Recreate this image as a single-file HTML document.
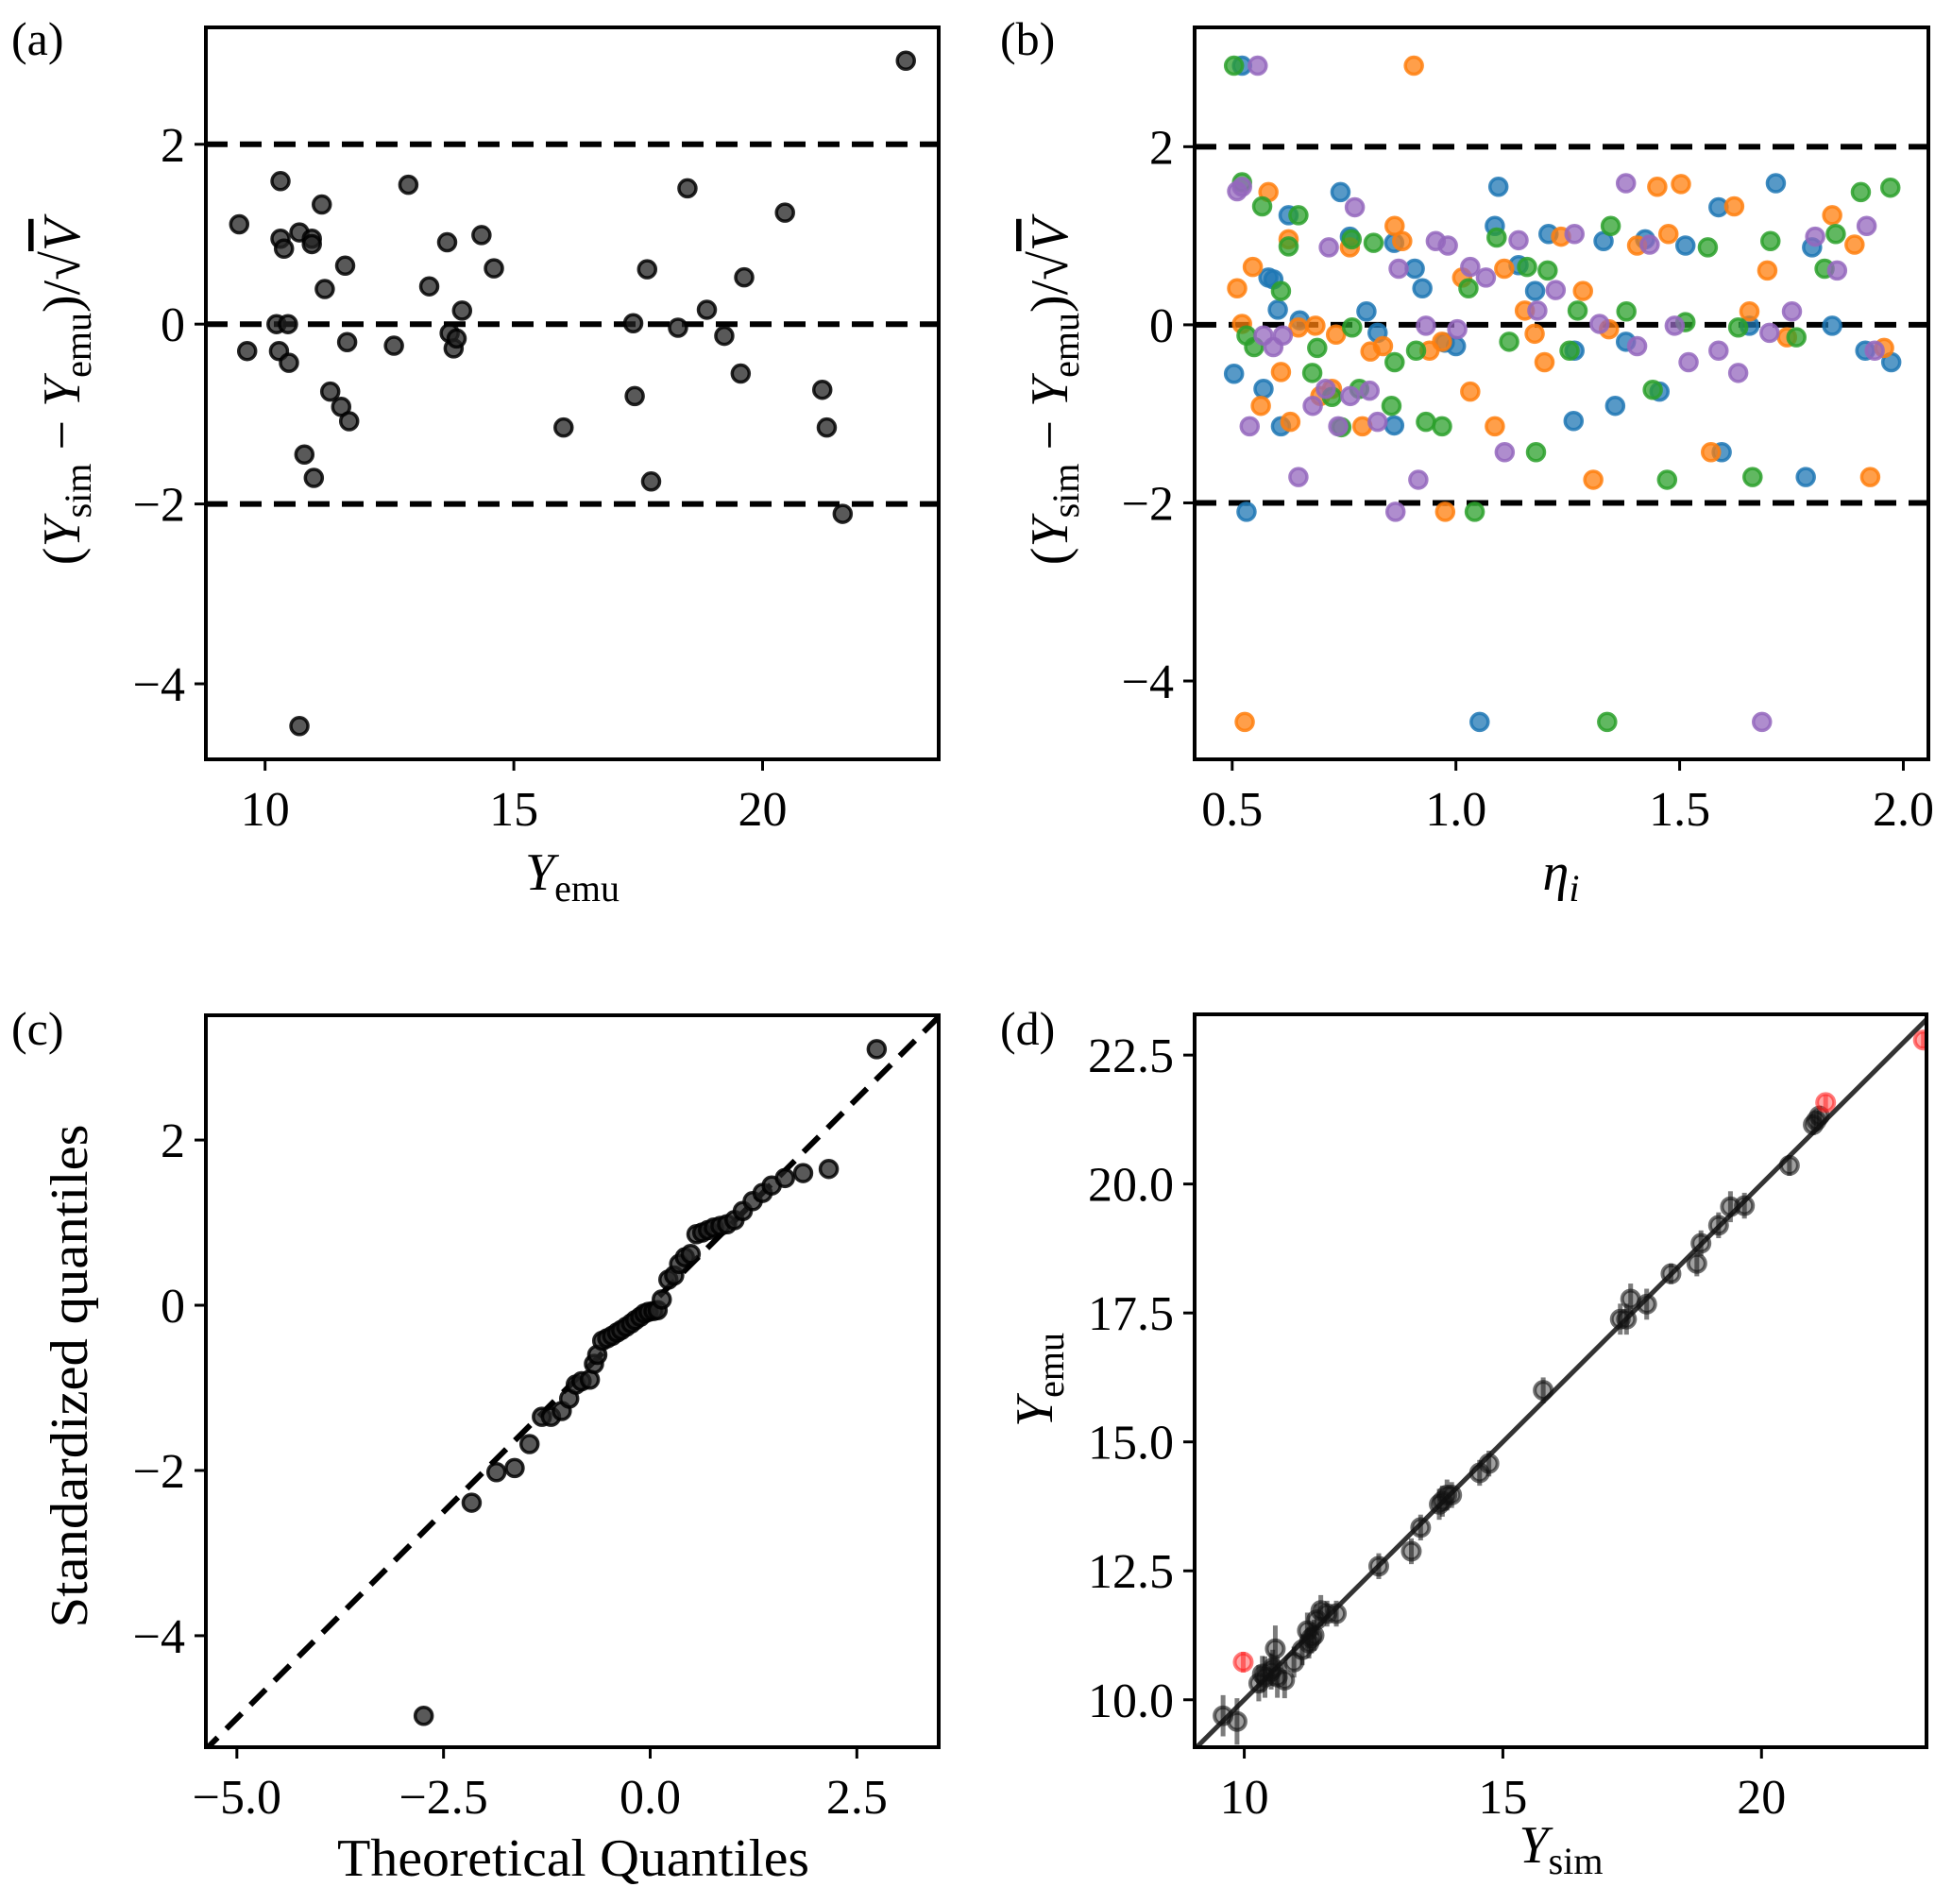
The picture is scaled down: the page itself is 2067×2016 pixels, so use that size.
<!DOCTYPE html>
<html><head><meta charset="utf-8">
<style>
html,body{margin:0;padding:0;background:#fff;}
svg{display:block;font-family:"Liberation Serif","DejaVu Serif",serif;}
</style></head>
<body>
<svg id="fig" width="2067" height="2016" viewBox="0 0 2067 2016" xmlns="http://www.w3.org/2000/svg"></svg>
<script>
// ---------- Panel (a) data ----------
const aX = [22.88,9.48,9.64,10.31,10.31,10.38,10.23,10.46,10.28,10.48,10.69,10.94,10.94,11.14,11.2,11.31,11.53,11.69,11.61,11.65,10.79,10.98,10.69,12.59,12.88,13.3,13.66,13.71,13.79,13.85,13.96,14.35,14.6,16.0,17.4,17.43,17.68,17.76,18.3,18.49,18.88,19.23,19.56,19.63,20.45,21.2,21.29,21.61];
const aY = [2.93,1.11,-0.30,1.59,0.95,0.84,0,0,-0.30,-0.43,1.02,0.95,0.89,1.33,0.39,-0.75,-0.92,-1.08,0.65,-0.2,-1.45,-1.71,-4.47,-0.24,1.55,0.42,0.91,-0.1,-0.27,-0.16,0.15,0.99,0.62,-1.15,0.01,-0.8,0.61,-1.75,-0.04,1.51,0.16,-0.13,-0.55,0.52,1.24,-0.73,-1.15,-2.11];
const aTicksX = [10,15,20];
const aTicksY = [2,0,-2,-4];
const aRefLines = [2,0,-2];

// ---------- Panel (b) data ----------
const bBlueX = [0.522,0.504,0.570,0.581,0.592,0.602,0.609,0.626,0.742,0.763,0.800,0.825,0.862,0.862,0.908,0.925,1.000,0.975,1.095,1.087,1.177,1.207,1.263,1.265,1.330,1.356,1.380,1.423,1.455,1.513,1.587,1.594,1.656,1.715,1.782,1.796,1.841,1.915,1.973,0.532,1.053,0.651,1.140];
const bBlueY = [2.91,-0.55,-0.72,0.53,0.51,0.17,-1.14,1.23,1.49,0.99,0.15,-0.09,0.92,-1.13,0.63,0.41,-0.24,-0.20,1.55,1.11,0.38,1.02,-1.08,-0.29,0.94,-0.91,-0.19,0.96,-0.75,0.89,1.32,-1.43,-0.01,1.59,-1.71,0.87,-0.01,-0.29,-0.42,-2.10,-4.46,0.05,0.67];
const bOrangeX = [0.906,0.528,0.581,0.511,0.522,0.546,0.564,0.609,0.630,0.626,0.648,0.686,0.697,0.723,0.732,0.763,0.791,0.809,0.837,0.863,0.880,0.941,0.969,0.976,1.014,1.032,1.087,1.108,1.154,1.176,1.198,1.235,1.284,1.307,1.342,1.405,1.450,1.475,1.503,1.570,1.622,1.656,1.696,1.740,1.841,1.891,1.926,1.957];
const bOrangeY = [2.91,-4.46,1.49,0.41,0.01,0.65,-0.91,-0.53,-1.09,0.96,-0.03,-0.01,-0.80,-0.72,-0.11,0.87,-1.14,-0.30,-0.24,1.11,0.94,-0.29,-0.19,-2.10,0.53,-0.75,-1.14,0.63,0.16,-0.10,-0.42,0.99,0.38,-1.74,-0.05,0.89,1.55,1.02,1.58,-1.43,1.33,0.15,0.61,-0.14,1.23,0.90,-1.71,-0.26];
const bGreenX = [0.504,0.522,0.567,0.532,0.549,0.609,0.626,0.648,0.679,0.690,0.723,0.768,0.784,0.816,0.863,0.856,0.911,0.933,0.969,1.042,1.028,1.091,1.119,1.179,1.205,1.254,1.272,1.346,1.381,1.440,1.472,1.513,1.563,1.631,1.663,1.703,1.761,1.824,1.849,1.905,1.971,0.744,1.159,0.767,1.338];
const bGreenY = [2.91,1.60,1.33,-0.12,-0.25,0.38,0.88,1.23,-0.54,-0.26,-0.81,-0.03,-0.72,0.92,-0.42,-0.91,-0.29,-1.09,-1.14,-2.10,0.41,0.98,-0.19,-1.43,0.61,-0.29,0.16,1.11,0.15,-0.73,-1.74,0.03,0.87,-0.03,-1.71,0.94,-0.14,0.63,1.02,1.49,1.54,-1.15,0.65,0.96,-4.46];
const bPurpleX = [0.557,0.511,0.522,0.539,0.570,0.592,0.613,0.648,0.680,0.709,0.716,0.737,0.764,0.774,0.807,0.825,0.872,0.865,0.916,0.933,0.955,0.982,1.003,1.032,1.067,1.109,1.140,1.182,1.223,1.265,1.321,1.380,1.405,1.433,1.489,1.520,1.587,1.631,1.684,1.701,1.751,1.803,1.852,1.918,1.936];
const bPurpleY = [2.91,1.50,1.55,-1.14,-0.12,-0.25,-0.12,-1.71,-0.91,-0.72,0.87,-1.14,-0.80,1.32,-0.74,-1.09,0.63,-2.10,-1.74,-0.01,0.94,0.89,-0.05,0.65,0.53,-1.43,0.95,0.16,0.39,1.02,0.01,1.59,-0.24,0.90,-0.01,-0.42,-0.29,-0.54,-4.46,-0.09,0.15,0.99,0.61,1.11,-0.29];
const bTicksX = [0.5,1.0,1.5,2.0];
const bTicksY = [2,0,-2,-4];

// ---------- Panel (c) data ----------
const cX = [-2.74,-2.16,-1.86,-1.64,-1.46,-1.31,-1.20,-1.07,-0.98,-0.90,-0.83,-0.73,-0.68,-0.64,-0.58,-0.52,-0.46,-0.40,-0.35,-0.29,-0.23,-0.18,-0.12,-0.07,-0.02,0.04,0.09,0.14,0.22,0.29,0.35,0.42,0.49,0.56,0.63,0.70,0.77,0.85,0.93,1.02,1.12,1.24,1.36,1.47,1.63,1.85,2.16,2.74];
const cY = [-4.97,-2.39,-2.02,-1.97,-1.68,-1.35,-1.35,-1.28,-1.13,-0.96,-0.92,-0.90,-0.71,-0.60,-0.43,-0.40,-0.37,-0.33,-0.30,-0.26,-0.22,-0.18,-0.14,-0.10,-0.08,-0.07,-0.06,0.07,0.31,0.36,0.50,0.58,0.62,0.86,0.88,0.91,0.94,0.96,0.98,1.03,1.14,1.26,1.36,1.45,1.54,1.60,1.65,3.10];
const cTicksX = [-5.0,-2.5,0.0,2.5];
const cTicksY = [2,0,-2,-4];

// ---------- Panel (d) data ----------
const dSim = [9.59,9.86,10.28,10.40,10.52,10.60,10.64,10.78,10.96,11.12,11.22,11.30,11.40,11.48,11.60,11.78,12.60,13.23,13.41,13.77,13.83,13.92,14.01,14.55,14.73,15.78,17.27,17.39,17.47,17.78,18.25,18.75,18.83,19.17,19.40,19.67,20.54,21.00,21.06,21.12,10.35,10.55,11.25,11.35];
const dEmu = [9.69,9.58,10.32,10.44,10.55,10.99,10.44,10.38,10.73,10.97,11.34,11.20,11.55,11.73,11.67,11.67,12.59,12.88,13.34,13.79,13.85,13.97,13.97,14.40,14.58,16.00,17.38,17.38,17.77,17.67,18.26,18.46,18.85,19.20,19.56,19.58,20.36,21.15,21.23,21.32,10.50,10.62,11.10,11.25];
const dErr = [0.40,0.45,0.35,0.40,0.35,0.45,0.40,0.35,0.30,0.30,0.35,0.30,0.30,0.30,0.25,0.25,0.25,0.25,0.25,0.30,0.30,0.30,0.25,0.25,0.25,0.25,0.30,0.30,0.30,0.30,0.20,0.25,0.25,0.25,0.30,0.25,0.20,0.20,0.20,0.20,0.35,0.35,0.30,0.30];
const dRedSim = [9.98,21.24,23.13];
const dRedEmu = [10.73,21.58,22.79];
const dRedErr = [0.20,0.15,0.15];
const dTicksX = [10,15,20];
const dTicksY = [10.0,12.5,15.0,17.5,20.0,22.5];

// ---------- drawing ----------
const NS = "http://www.w3.org/2000/svg";
const svg = document.getElementById('fig');
function mk(tag, attrs, parent){
  const e = document.createElementNS(NS, tag);
  for (const k in attrs) e.setAttribute(k, attrs[k]);
  (parent||svg).appendChild(e);
  return e;
}
function scale(d0,d1,p0,p1){ return v => p0 + (v-d0)/(d1-d0)*(p1-p0); }

function panel(name, box, xlim, ylim){
  const g = mk('g', {});
  
  
  const sx = scale(xlim[0], xlim[1], box.l, box.r);
  const sy = scale(ylim[0], ylim[1], box.b, box.t);
  const clipId = name + '-clip';
  const cp = mk('clipPath', {id: clipId}, g);
  mk('rect', {x: box.l, y: box.t, width: box.r-box.l, height: box.b-box.t}, cp);
  const plot = mk('g', {'clip-path': 'url(#'+clipId+')'}, g);
  
  
  return {g, sx, sy, plot, box};
}
function frame(P){
  const r = mk('rect', {x: P.box.l, y: P.box.t, width: P.box.r-P.box.l, height: P.box.b-P.box.t, fill: 'none', stroke: '#000', 'stroke-width': 4}, P.g);
  
  
}
const TF = 52;
function xTicks(P, ticks, fmt){
  ticks.forEach(t => {
    const x = P.sx(t);
    const l = mk('line', {x1: x, x2: x, y1: P.box.b, y2: P.box.b+12, stroke: '#000', 'stroke-width': 3}, P.g);
    
    
    const tx = mk('text', {x: x, y: P.box.b+70, 'font-size': TF, 'text-anchor': 'middle', fill: '#000'}, P.g);
    
    
    tx.textContent = fmt(t);
  });
}
function yTicks(P, ticks, fmt){
  ticks.forEach(t => {
    const y = P.sy(t);
    const l = mk('line', {x1: P.box.l-12, x2: P.box.l, y1: y, y2: y, stroke: '#000', 'stroke-width': 3}, P.g);
    
    
    const tx = mk('text', {x: P.box.l-22, y: y+18, 'font-size': TF, 'text-anchor': 'end', fill: '#000'}, P.g);
    
    
    tx.textContent = fmt(t);
  });
}
const num = t => (t<0 ? '\u2212' : '') + Math.abs(t);
const num1 = t => (t<0 ? '\u2212' : '') + Math.abs(t).toFixed(1);

function hDash(P, v){
  const l = mk('line', {x1: P.box.l, x2: P.box.r, y1: P.sy(v), y2: P.sy(v), stroke: '#000', 'stroke-width': 6, 'stroke-dasharray': '23,13'}, P.plot);
  
  
}
function dot(P, x, y, fill, stroke, name){
  const c = mk('circle', {cx: P.sx(x), cy: P.sy(y), r: 9, fill: fill, 'fill-opacity': 0.75, stroke: stroke, 'stroke-opacity': 0.85, 'stroke-width': 3.5}, P.plot);
  
  
  return c;
}
function label(txt, x, y, size, rot, name, anchor, len){
  const t = mk('text', {x: x, y: y, 'font-size': size, 'text-anchor': anchor||'middle', fill: '#000'});
  if (len) { t.setAttribute('textLength', len); t.setAttribute('lengthAdjust', 'spacingAndGlyphs'); }
  if (rot) t.setAttribute('transform', 'rotate(-90 '+x+' '+y+')');
  
  
  t.innerHTML = txt;
  return t;
}
const resLabel = '(<tspan font-style="italic">Y</tspan><tspan font-size="40" dy="12">sim</tspan><tspan dy="-12"> \u2212 </tspan><tspan font-style="italic">Y</tspan><tspan font-size="40" dy="12">emu</tspan><tspan dy="-12">)/\u221A</tspan><tspan font-style="italic" text-decoration="overline">V</tspan>';

// Panel a
const A = panel('panel-a', {l:218, r:994, t:29, b:804}, [8.81, 23.54], [-4.84, 3.30]);
aRefLines.forEach(v => hDash(A, v));
aX.forEach((x,i) => dot(A, x, aY[i], '#222', '#000', 'residual-point'));
frame(A); xTicks(A, aTicksX, num); yTicks(A, aTicksY, num);
label('(a)', 12, 58, 50, false, 'panel-label-a', 'start');
label('<tspan font-style="italic">Y</tspan><tspan font-size="40" dy="12">emu</tspan>', 606, 942, 56, false, 'x-axis-title-a');
label(resLabel, 84, 415, 56, true, 'y-axis-title-a');

// Panel b
const B = panel('panel-b', {l:1265, r:2042, t:29, b:804}, [0.416, 2.056], [-4.88, 3.34]);
aRefLines.forEach(v => hDash(B, v));
const bSeries = [[bBlueX,bBlueY,'#1f77b4','param-1-point'],[bOrangeX,bOrangeY,'#ff7f0e','param-2-point'],[bGreenX,bGreenY,'#2ca02c','param-3-point'],[bPurpleX,bPurpleY,'#9467bd','param-4-point']];
bSeries.forEach(s => s[0].forEach((x,i) => dot(B, x, s[1][i], s[2], s[2], s[3])));
frame(B); xTicks(B, bTicksX, num1); yTicks(B, bTicksY, num);
label('(b)', 1059, 58, 50, false, 'panel-label-b', 'start');
label('<tspan font-style="italic">\u03B7</tspan><tspan font-style="italic" font-size="40" dy="12">i</tspan>', 1653, 942, 56, false, 'x-axis-title-b');
label(resLabel, 1130, 415, 56, true, 'y-axis-title-b');

// Panel c
const cXlim = [-5.375, 3.49], cYlim = [-5.35, 3.51];
const C = panel('panel-c', {l:218, r:994, t:1075, b:1850}, cXlim, cYlim);
const dl = mk('line', {x1: C.sx(-6), y1: C.sy(-6), x2: C.sx(4), y2: C.sy(4), stroke: '#000', 'stroke-width': 6, 'stroke-dasharray': '23,13'}, C.plot);


cX.forEach((x,i) => dot(C, x, cY[i], '#222', '#000', 'quantile-point'));
frame(C); xTicks(C, cTicksX, num1); yTicks(C, cTicksY, num);
label('(c)', 12, 1106, 50, false, 'panel-label-c', 'start');
label('Theoretical Quantiles', 607, 1986, 56, false, 'x-axis-title-c', 'middle', 500);
label('Standardized quantiles', 92, 1457, 56, true, 'y-axis-title-c', 'middle', 533);

// Panel d
const D = panel('panel-d', {l:1265, r:2040, t:1074, b:1850}, [9.04, 23.19], [9.08, 23.29]);
const idl = mk('line', {x1: D.sx(8), y1: D.sy(8), x2: D.sx(24), y2: D.sy(24), stroke: '#333', 'stroke-width': 5}, D.plot);


function errPt(x, y, e, col, name){
  const l = mk('line', {x1: D.sx(x), x2: D.sx(x), y1: D.sy(y-e), y2: D.sy(y+e), stroke: col, 'stroke-opacity': 0.55, 'stroke-width': 5}, D.plot);
  
  
  const c = mk('circle', {cx: D.sx(x), cy: D.sy(y), r: 9, fill: col, 'fill-opacity': 0.4, stroke: col, 'stroke-opacity': 0.6, 'stroke-width': 4}, D.plot);
  
  
}
dSim.forEach((x,i) => errPt(x, dEmu[i], dErr[i], '#111', 'prediction-point'));
dRedSim.forEach((x,i) => errPt(x, dRedEmu[i], dRedErr[i], '#ff2020', 'outlier-point'));
frame(D); xTicks(D, dTicksX, num); yTicks(D, dTicksY, num1);
label('(d)', 1059, 1106, 50, false, 'panel-label-d', 'start');
label('<tspan font-style="italic">Y</tspan><tspan font-size="40" dy="12">sim</tspan>', 1653, 1972, 56, false, 'x-axis-title-d');
label('<tspan font-style="italic">Y</tspan><tspan font-size="40" dy="12">emu</tspan>', 1114, 1461, 56, true, 'y-axis-title-d');
</script>
</body></html>
